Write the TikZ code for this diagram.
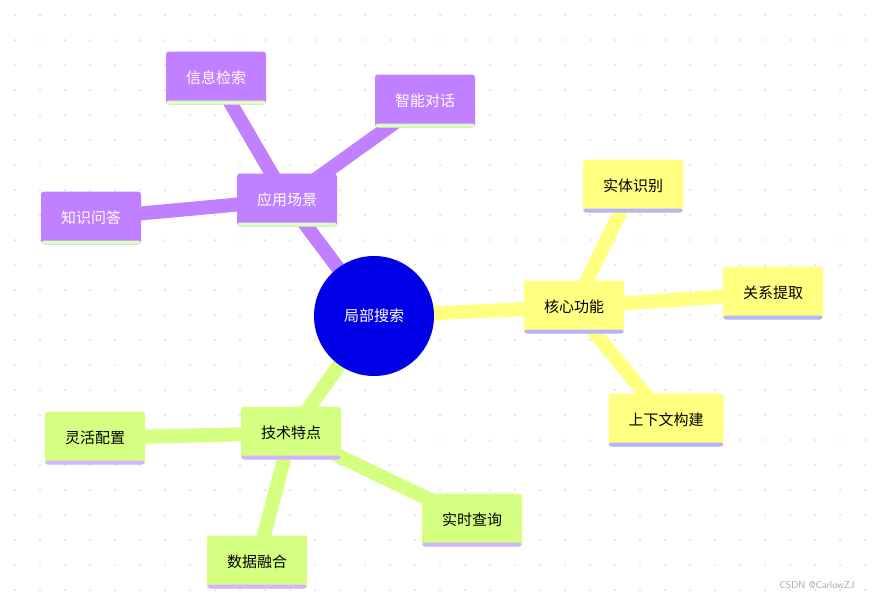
\documentclass[tikz,border=0pt]{standalone}
\usepackage{fontspec}
\usetikzlibrary{backgrounds}
\newfontfamily\cjk{Noto Sans CJK SC}
\definecolor{pur}{RGB}{192,128,255}
\definecolor{yel}{RGB}{255,255,128}
\definecolor{grn}{RGB}{212,255,128}
\definecolor{lav}{RGB}{180,180,255}
\definecolor{lgr}{RGB}{220,255,190}
\definecolor{lpu}{RGB}{210,180,255}
\definecolor{blu}{RGB}{0,0,230}
\tikzset{
 box/.style={rounded corners=3pt,minimum height=53pt,inner xsep=20pt,font=\cjk\fontsize{15}{18}\selectfont},
 pbox/.style={box,fill=pur,text=white,path picture={\fill[lgr] ([yshift=4pt]path picture bounding box.south west) rectangle (path picture bounding box.south east);}},
 ybox/.style={box,fill=yel,text=black,path picture={\fill[lav] ([yshift=4pt]path picture bounding box.south west) rectangle (path picture bounding box.south east);}},
 gbox/.style={box,fill=grn,text=black,path picture={\fill[lpu] ([yshift=4pt]path picture bounding box.south west) rectangle (path picture bounding box.south east);}},
 link/.style={line width=14pt},
}
\begin{document}
\begin{tikzpicture}[x=1pt,y=-1pt]
\useasboundingbox (0,0) rectangle (884,600);
\node[circle,fill=blu,minimum size=120pt,text=white,font=\cjk\fontsize{15}{18}\selectfont] (c) at (374,316) {局部搜索};
\node[pbox] (a) at (287,200) {应用场景};
\node[pbox] (a1) at (216,78) {信息检索};
\node[pbox] (a2) at (425,101) {智能对话};
\node[pbox] (a3) at (91,218) {知识问答};
\node[ybox] (b) at (574,307) {核心功能};
\node[ybox] (b1) at (633,186) {实体识别};
\node[ybox] (b2) at (773,293) {关系提取};
\node[ybox] (b3) at (666,420) {上下文构建};
\node[gbox] (g) at (291,433) {技术特点};
\node[gbox] (g1) at (95,438) {灵活配置};
\node[gbox] (g2) at (472,520) {实时查询};
\node[gbox] (g3) at (257,562) {数据融合};
\node[text=black!35,font=\sffamily\fontsize{10}{12}\selectfont] (wm) at (817,585) {CSDN @CarlowZJ};
\begin{scope}[on background layer]
\foreach \i in {0,...,35}{\foreach \j in {0,...,24}{\fill[black!15] (\i*25+15,\j*25+15) circle (1pt);}}
\draw[link,pur] (c.center) -- (a.center) (a.center) -- (a1.center) (a.center) -- (a2.center) (a.center) -- (a3.center);
\draw[link,yel] (c.center) -- (b.center) (b.center) -- (b1.center) (b.center) -- (b2.center) (b.center) -- (b3.center);
\draw[link,grn] (c.center) -- (g.center) (g.center) -- (g1.center) (g.center) -- (g2.center) (g.center) -- (g3.center);
\end{scope}
\end{tikzpicture}
\end{document}
